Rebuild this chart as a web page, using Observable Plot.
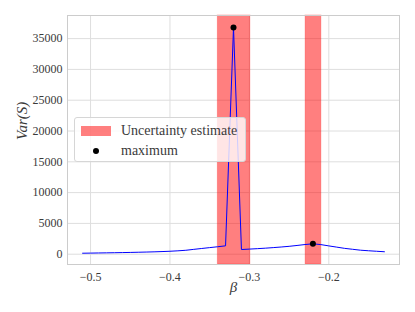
<!DOCTYPE html>
<html>
<head>
<meta charset="utf-8">
<script src="https://cdn.jsdelivr.net/npm/d3@7"></script>
<script src="https://cdn.jsdelivr.net/npm/@observablehq/plot@0.6"></script>
<style>
  html, body { margin: 0; padding: 0; background: #fff; }
  #wrap { position: relative; width: 415px; height: 312px; font-family: "Liberation Serif", "Times New Roman", "DejaVu Serif", serif; }
  #chart svg text { font-family: "Liberation Serif", "Times New Roman", "DejaVu Serif", serif; }
  #legend {
    position: absolute; left: 74px; top: 117px; width: 172px; height: 45px;
    background: rgba(255,255,255,0.8); border: 1px solid #d6d6d6; border-radius: 3px;
    box-sizing: border-box; color: #3a3a3a; font-size: 14px;
  }
  #legend .row { position: absolute; left: 0; height: 16px; line-height: 16px; }
  #legend .patch { position: absolute; left: 6px; top: 3px; width: 30px; height: 10px; background: rgba(255,0,0,0.5); }
  #legend .dot { position: absolute; left: 18px; top: 5px; width: 6px; height: 6px; border-radius: 50%; background: #000; }
  #legend .lab { position: absolute; left: 46px; top: 0; white-space: nowrap; }
</style>
</head>
<body>
<div id="wrap">
  <div id="chart"></div>
  <div id="legend">
    <div class="row" style="top:5px"><div class="patch"></div><div class="lab">Uncertainty estimate</div></div>
    <div class="row" style="top:25px"><div class="dot"></div><div class="lab">maximum</div></div>
  </div>
</div>
<script>
const beta = [-0.51,-0.50,-0.49,-0.48,-0.47,-0.46,-0.45,-0.44,-0.43,-0.42,-0.41,-0.40,-0.39,-0.38,-0.37,-0.36,-0.35,-0.34,-0.33,-0.32,-0.31,-0.30,-0.29,-0.28,-0.27,-0.26,-0.25,-0.24,-0.23,-0.22,-0.21,-0.20,-0.19,-0.18,-0.17,-0.16,-0.15,-0.14,-0.13];
const varS = [160,180,200,220,240,265,290,320,350,385,430,480,550,640,790,930,1070,1210,1360,36800,760,830,900,980,1070,1170,1280,1420,1570,1690,1560,1350,1150,950,800,650,560,480,400];
const bandLo = [-0.3397, -0.2292];
const bandHi = [-0.2988, -0.2094];
const maxBeta = [-0.32, -0.22];
const maxVar = [36800, 1690];
const xTicks = [-0.5, -0.4, -0.3, -0.2];
const yTicks = [0, 5000, 10000, 15000, 20000, 25000, 30000, 35000];

const lineData = beta.map((b, i) => ({b, v: varS[i]}));
const bands = bandLo.map((lo, i) => ({lo, hi: bandHi[i]}));
const maxima = maxBeta.map((b, i) => ({b, v: maxVar[i]}));

const chart = Plot.plot({
  width: 415, height: 312,
  marginLeft: 67, marginRight: 16, marginTop: 15, marginBottom: 48,
  style: {fontFamily: "'Liberation Serif', 'Times New Roman', serif", fontSize: "12px", color: "#3a3a3a", background: "#fff"},
  x: {domain: [-0.529, -0.111]},
  y: {domain: [-1670, 38750]},
  marks: [
    Plot.gridX(xTicks, {stroke: "#dedede", strokeOpacity: 1, strokeWidth: 1}),
    Plot.gridY(yTicks, {stroke: "#dedede", strokeOpacity: 1, strokeWidth: 1}),
    Plot.rect(bands, {x1: "lo", x2: "hi", fill: "red", fillOpacity: 0.5, stroke: "red", strokeOpacity: 0.25}),
    Plot.line(lineData, {x: "b", y: "v", stroke: "#0000ff", strokeWidth: 1}),
    Plot.dot(maxima, {x: "b", y: "v", r: 3, fill: "black"}),
    Plot.frame({stroke: "#cccccc"}),
    Plot.axisX(xTicks, {tickSize: 0, tickPadding: 8, label: null, fontSize: 12,
      tickFormat: d => String(d).replace("-", "\u2212")}),
    Plot.axisY(yTicks, {tickSize: 0, tickPadding: 5, label: null, fontSize: 12,
      tickFormat: d => String(d)}),
    Plot.text([0], {frameAnchor: "bottom", dy: 27, text: () => "β", fontStyle: "italic", fontSize: 15, fill: "#3a3a3a"}),
    Plot.text([0], {frameAnchor: "left", dx: -45, rotate: -90, text: () => "Var(S)", fontStyle: "italic", fontSize: 15, fill: "#3a3a3a"})
  ]
});
document.getElementById("chart").appendChild(chart);
</script>
</body>
</html>
